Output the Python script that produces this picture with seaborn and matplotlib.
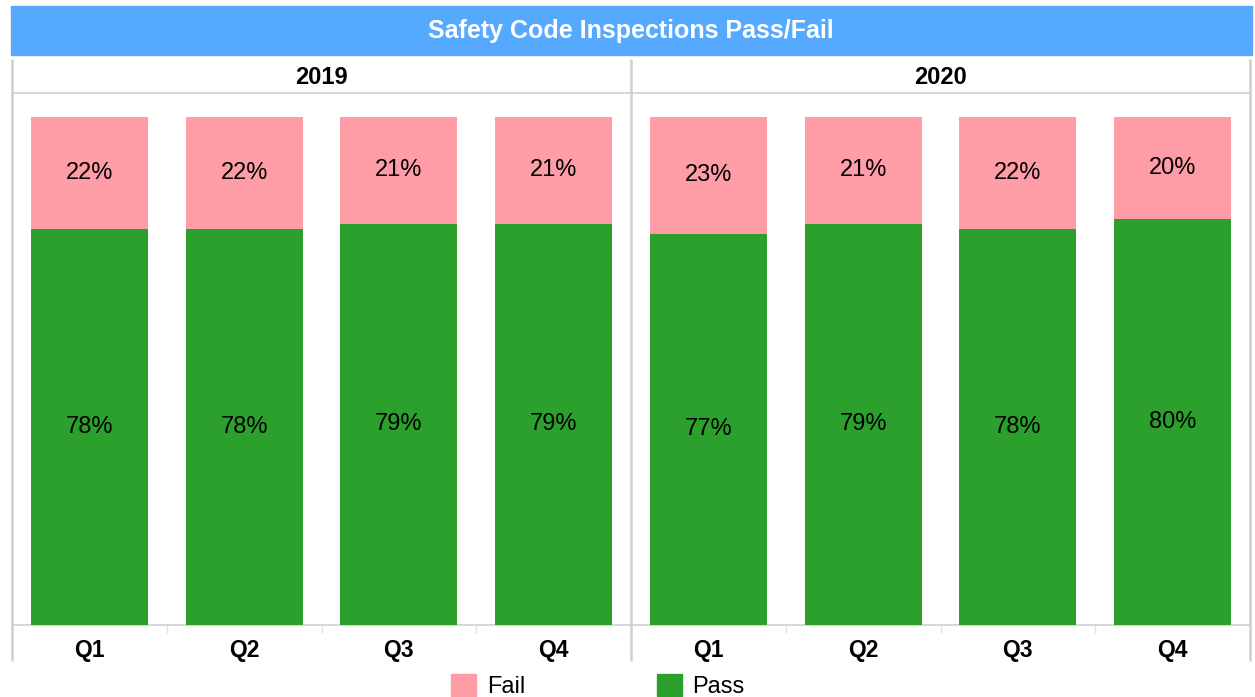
import matplotlib
matplotlib.use("Agg")
import matplotlib.pyplot as plt
from matplotlib.patches import Rectangle
from matplotlib.lines import Line2D
import seaborn as sns
import pandas as pd

# --- data ---
years = ["2019", "2020"]
quarters = ["Q1", "Q2", "Q3", "Q4"]
pass_pct = [78, 78, 79, 79, 77, 79, 78, 80]
fail_pct = [22, 22, 21, 21, 23, 21, 22, 20]

PINK = "#FF9DA7"
GREEN = "#2CA02C"
BLUE = "#55A9FF"
GRID = "#CFCFCF"

df = pd.DataFrame({
    "year": [y for y in years for _ in quarters],
    "quarter": quarters * len(years),
    "pass": pass_pct,
    "fail": fail_pct,
})
df["total"] = df["pass"] + df["fail"]

sns.set_theme(style="white")
plt.rcParams["font.family"] = ["Liberation Sans", "DejaVu Sans"]
plt.rcParams["text.color"] = "black"

W, H = 1255, 697
fig = plt.figure(figsize=(W / 100, H / 100), dpi=100)


def fx(px):
    return px / W


def fy(py):
    return 1 - py / H


# title bar
fig.patches.append(Rectangle((fx(11), fy(55)), fx(1252) - fx(11), fy(6) - fy(55),
                             transform=fig.transFigure, color=BLUE, zorder=0))
fig.text(fx(631), fy(31), "Safety Code Inspections Pass/Fail", color="white",
         fontsize=18, fontweight="bold", ha="center", va="center")

panel_left = [12, 631]
panel_w = 619
top, bottom = 93, 625

for i, yr in enumerate(years):
    sub = df[df["year"] == yr]
    ax = fig.add_axes([fx(panel_left[i]), fy(bottom), fx(panel_w), fy(top) - fy(bottom)])
    # stacked look: full-height fail bar, pass bar drawn over it
    sns.barplot(data=sub, x="quarter", y="total", color=PINK, width=0.756,
                saturation=1, linewidth=0, edgecolor="none", ax=ax, zorder=2)
    sns.barplot(data=sub, x="quarter", y="pass", color=GREEN, width=0.756,
                saturation=1, linewidth=0, edgecolor="none", ax=ax, zorder=3)
    ax.set_ylim(0, 104.7)
    ax.set_xlim(-0.5, 3.5)
    ax.set_xlabel("")
    ax.set_ylabel("")
    ax.set_yticks([])
    ax.bar_label(ax.containers[1], labels=[f"{v}%" for v in sub["pass"]],
                 label_type="center", fontsize=17, color="black")
    for j, (p, f) in enumerate(zip(sub["pass"], sub["fail"])):
        ax.text(j, p + f / 2, f"{f}%", ha="center", va="center", fontsize=17, color="black")

    for s in ["left", "right"]:
        ax.spines[s].set_visible(False)
    for s in ["top", "bottom"]:
        ax.spines[s].set_color(GRID)
        ax.spines[s].set_linewidth(1.2)

    ax.set_xticks(range(len(quarters)))
    ax.set_xticklabels(quarters, fontsize=16.5, fontweight="bold")
    ax.set_xticks([0.5, 1.5, 2.5], minor=True)
    ax.tick_params(axis="x", which="major", length=0, pad=10, labelcolor="black")
    ax.tick_params(axis="x", which="minor", length=6, width=1, color="#E2E2E2",
                   direction="out", bottom=True)
    ax.text(0.5, 1.03, yr, transform=ax.transAxes, ha="center", va="center",
            fontsize=17, fontweight="bold", color="black")

# vertical panel separators
for x in [12, 631, 1250]:
    fig.add_artist(Line2D([fx(x), fx(x)], [fy(660), fy(60)], transform=fig.transFigure,
                          color=GRID, linewidth=1.8))

# legend
handles = [Rectangle((0, 0), 1, 1, color=PINK), Rectangle((0, 0), 1, 1, color=GREEN)]
fig.legend(handles, ["Fail", "Pass"], loc="center", bbox_to_anchor=(fx(598), fy(686)),
           ncol=2, frameon=False, fontsize=17, handlelength=1.05, handleheight=1.05,
           handletextpad=0.45, columnspacing=5.6, borderpad=0, labelcolor="black")

fig.savefig("out.png", dpi=100)
